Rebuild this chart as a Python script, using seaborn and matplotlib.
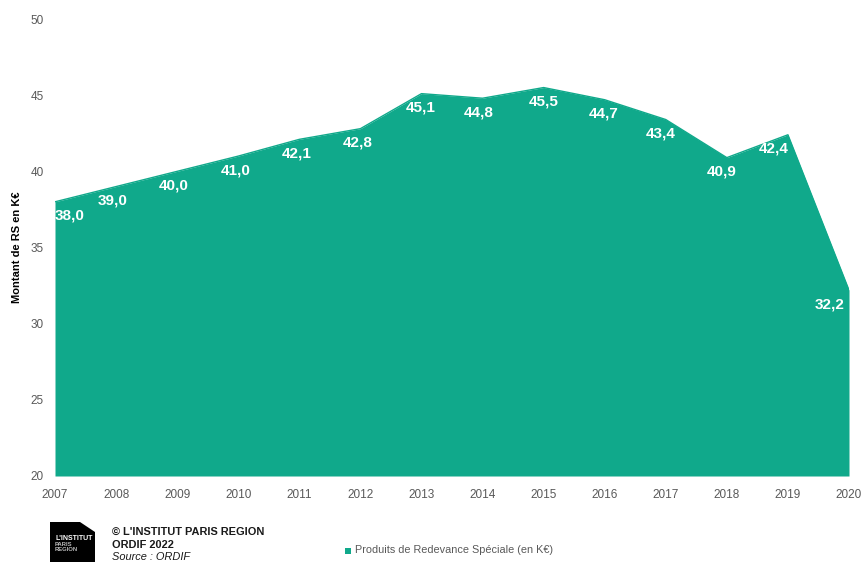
import matplotlib
matplotlib.use("Agg")
import matplotlib.pyplot as plt
from matplotlib.patches import Polygon, Rectangle
import seaborn as sns
import pandas as pd

years = [2007, 2008, 2009, 2010, 2011, 2012, 2013, 2014, 2015, 2016, 2017, 2018, 2019, 2020]
values = [38.0, 39.0, 40.0, 41.0, 42.1, 42.8, 45.1, 44.8, 45.5, 44.7, 43.4, 40.9, 42.4, 32.2]
y_ticks = [20, 25, 30, 35, 40, 45, 50]
series_name = "Produits de Redevance Spéciale (en K€)"
ylabel = "Montant de RS en K€"

color = "#10a98b"
grey = "#595959"

sns.set_theme(style="white")
plt.rcParams['font.family'] = ['Liberation Sans', 'DejaVu Sans']

df = pd.DataFrame({"year": years, "value": values})

fig = plt.figure(figsize=(8.61, 5.62), dpi=100)
ax = fig.add_axes([55/861, 1-476/562, (849-55)/861, (476-19)/562])

ax.fill_between(df["year"], df["value"], 20, color=color, linewidth=0)
sns.lineplot(data=df, x="year", y="value", ax=ax, color=color, linewidth=1)

ax.set_xlim(years[0], years[-1])
ax.set_ylim(20, 50)
ax.set_xticks(years)
ax.set_xticklabels([str(y) for y in years], fontsize=8.5, color=grey)
ax.set_yticks(y_ticks)
ax.set_yticklabels([str(t) for t in y_ticks], fontsize=8.5, color=grey)
ax.tick_params(axis='x', length=0, pad=9)
ax.tick_params(axis='y', length=0, pad=8)
for s in ax.spines.values():
    s.set_visible(False)
ax.set_xlabel("")
ax.set_ylabel("")
fig.text(17/861, 1-247/562, ylabel, rotation=90, fontsize=8, fontweight='bold',
         color='black', ha='center', va='center')

label_font = ['Liberation Sans Narrow', 'Liberation Sans', 'DejaVu Sans']
# per-label horizontal nudges (pixels)
dxs = [0, -3, -3, -3, -3, -3, -1, -4, 0, -1, -5, -5, -14, -4]
for i, (x, v) in enumerate(zip(years, values)):
    lab = f"{v:.1f}".replace(".", ",")
    if i == 0:
        ha = 'left'
    elif i == len(years) - 1:
        ha = 'right'
    else:
        ha = 'center'
    ax.annotate(lab, (x, v), xytext=(dxs[i], -14), textcoords='offset pixels',
                ha=ha, va='center', fontsize=11, fontweight='bold', color='white',
                family=label_font)

# footer: logo
logo = Polygon([[50, 0], [50, 40], [80, 40], [95, 30], [95, 0]], closed=True,
               transform=None, facecolor='black', edgecolor='none')
fig.patches.append(logo)
fig.text(55/861, 1-538/562, "L'INSTITUT", fontsize=5, fontweight='bold', color='white', va='center')
fig.text(55/861, 1-544.5/562, "PARIS", fontsize=4.2, fontweight='bold', color='#bbbbbb', va='center')
fig.text(55/861, 1-549.5/562, "REGION", fontsize=4.2, fontweight='bold', color='#bbbbbb', va='center')

fig.text(112/861, 1-532/562, "© L'INSTITUT PARIS REGION", fontsize=7.9, fontweight='bold', color='#1a1a1a', va='center')
fig.text(112/861, 1-545/562, "ORDIF 2022", fontsize=7.9, fontweight='bold', color='#1a1a1a', va='center')
fig.text(112/861, 1-557/562, "Source : ORDIF", fontsize=7.9, fontstyle='italic', color='#1a1a1a', va='center')

sq = Rectangle((345, 562-553.5), 6, 6, transform=None, facecolor=color, edgecolor='none')
fig.patches.append(sq)
fig.text(355/861, 1-550/562, series_name, fontsize=7.8, color=grey, va='center')

fig.savefig("out.png", dpi=100)
